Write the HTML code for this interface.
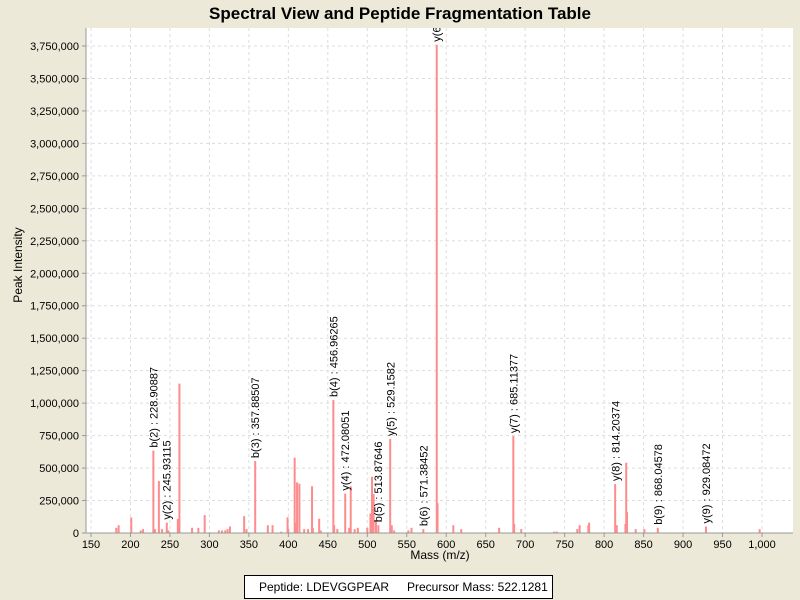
<!DOCTYPE html>
<html><head><meta charset="utf-8"><style>
body{margin:0;background:#ece9d8;}
svg{display:block;font-family:"Liberation Sans",sans-serif;}
</style></head><body>
<svg id="chart" width="800" height="600" xmlns="http://www.w3.org/2000/svg">
<defs><clipPath id="plotclip"><rect x="86" y="28" width="707" height="505"/></clipPath></defs>
<rect width="800" height="600" fill="#ece9d8"/>
<text x="400" y="19" text-anchor="middle" font-size="17" font-weight="bold">Spectral View and Peptide Fragmentation Table</text>
<rect x="86" y="28" width="707" height="505" fill="#fff"/>
<g id="grid"></g>
<g id="bars" clip-path="url(#plotclip)"></g>
<g id="labels" clip-path="url(#plotclip)"></g>
<line x1="86" y1="28" x2="86" y2="533" stroke="#999"/>
<line x1="86" y1="533" x2="793" y2="533" stroke="#999"/>
<g id="ticks"></g>
<text x="22" y="265" font-size="12" text-anchor="middle" transform="rotate(-90 22 265)">Peak Intensity</text>
<text x="440" y="559" font-size="12" text-anchor="middle">Mass (m/z)</text>
<g>
<rect x="244.5" y="575.5" width="308" height="23" fill="#fff" stroke="#000"/>
<text x="259" y="591" font-size="12">Peptide: LDEVGGPEAR</text>
<text x="407" y="591" font-size="12">Precursor Mass: 522.1281</text>
</g>
</svg>
<script>
const masses=[182,185,201,213,216,229,231,236,240,246,248,260,262,278,286,294,312,316,320,323,326,344,347,358,374,380,391,399,400,408,409,411,414,420,425,430,431,439,441,457,458,462,472,477,479,484,488,500,504,506,508,511,514,529,531,534,552,556,571,588,589,609,619,667,685,686,695,737,740,766,769,780,781,814,816,827,828,829,840,851,868,929,997];
const intensities=[40000,60000,120000,20000,30000,634000,30000,400000,30000,80000,20000,108000,1150000,40000,40000,138000,20000,20000,20000,30000,50000,130000,30000,554000,60000,60000,10000,120000,30000,580000,80000,390000,380000,30000,30000,360000,40000,110000,20000,1024000,60000,30000,303000,40000,360000,30000,40000,40000,150000,433000,300000,100000,60000,724000,60000,20000,20000,40000,30000,3760000,230000,60000,30000,40000,746000,70000,30000,10000,10000,30000,60000,60000,80000,377000,60000,70000,541000,160000,30000,30000,40000,50000,30000];
const annMasses=[228.90887,245.93115,357.88507,456.96265,472.08051,513.87646,529.1582,571.38452,588.0,685.11377,814.20374,868.04578,929.08472];
const annInts=[634000,80000,554000,1024000,303000,60000,724000,30000,3760000,746000,377000,40000,50000];
const annLabels=["b(2) : 228.90887","y(2) : 245.93115","b(3) : 357.88507","b(4) : 456.96265","y(4) : 472.08051","b(5) : 513.87646","y(5) : 529.1582","b(6) : 571.38452","y(6) : 588.0","y(7) : 685.11377","y(8) : 814.20374","b(9) : 868.04578","y(9) : 929.08472"];
const xTicks=[150,200,250,300,350,400,450,500,550,600,650,700,750,800,850,900,950,1000];
const yTicks=[0,250000,500000,750000,1000000,1250000,1500000,1750000,2000000,2250000,2500000,2750000,3000000,3250000,3500000,3750000];
const NS="http://www.w3.org/2000/svg";
const X=m=>91+(m-150)*(671/850);
const Y=v=>533-v*(487/3750000);
function mk(t,a,p){const e=document.createElementNS(NS,t);for(const k in a)e.setAttribute(k,a[k]);p.appendChild(e);return e;}
const grid=document.getElementById('grid'),ticks=document.getElementById('ticks'),bars=document.getElementById('bars'),labels=document.getElementById('labels');
const fmt=v=>v.toLocaleString('en-US');
xTicks.forEach(t=>{
 const x=X(t);
 const g=mk('line',{x1:x,y1:28,x2:x,y2:533,stroke:'#ddd','stroke-dasharray':'3,3'},grid);
 
 
 mk('line',{x1:x,y1:533,x2:x,y2:537,stroke:'#999'},ticks);
 const tx=mk('text',{x:x,y:548,'font-size':11,'text-anchor':'middle'},ticks);
 tx.textContent=fmt(t);
 
 
});
yTicks.forEach(t=>{
 const y=Y(t);
 if(t>0){const g=mk('line',{x1:86,y1:y,x2:793,y2:y,stroke:'#ddd','stroke-dasharray':'3,3'},grid);
 
 }
 mk('line',{x1:82,y1:y,x2:86,y2:y,stroke:'#999'},ticks);
 const tx=mk('text',{x:79,y:y+4,'font-size':11,'text-anchor':'end'},ticks);
 tx.textContent=fmt(t);
 
 
});
masses.forEach((m,i)=>{
 const x=X(m),y=Y(intensities[i]);
 const b=mk('rect',{x:x-1,y:y,width:2,height:533-y,fill:'#ff8c8c'},bars);
 
 
});
annMasses.forEach((m,i)=>{
 const x=X(m)+4,y=Y(annInts[i])-3;
 const t=mk('text',{x:x,y:y,'font-size':11,transform:`rotate(-90 ${x} ${y})`},labels);
 t.textContent=annLabels[i];
 
 
});
</script>
</body></html>
